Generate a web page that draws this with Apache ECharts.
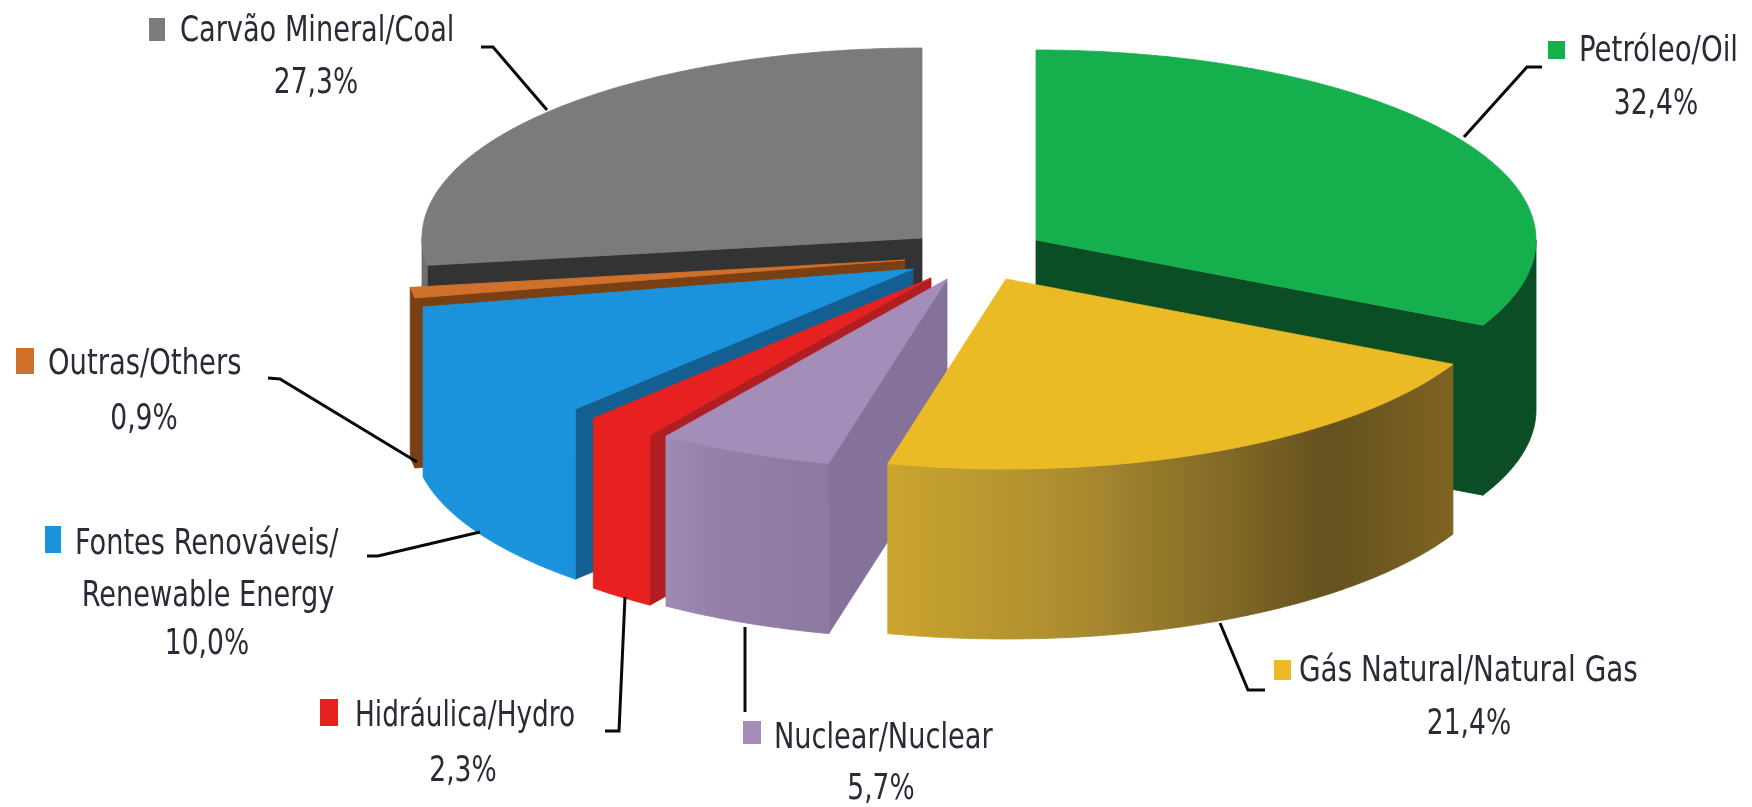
<!DOCTYPE html>
<html>
<head>
<meta charset="utf-8">
<style>html,body{margin:0;padding:0;background:#fff}#chart{width:1752px;height:807px}</style>
<script src="https://cdn.jsdelivr.net/npm/echarts@6/dist/echarts.min.js"></script>
</head>
<body>
<div id="chart"></div>
<script>
// Energy matrix shares, in percent, clockwise from twelve o'clock.
const sources = ['Petróleo/Oil', 'Gás Natural/Natural Gas', 'Nuclear/Nuclear', 'Hidráulica/Hydro',
  'Fontes Renováveis/\nRenewable Energy', 'Outras/Others', 'Carvão Mineral/Coal'];
const shares = [32.4, 21.4, 5.7, 2.3, 10.0, 0.9, 27.3];

// Where each exploded wedge has its apex on the top plane.
const apexX = [1036, 1006, 947, 931, 913, 905, 922];
const apexY = [240, 279, 279, 278, 269, 260, 238];
// Back-to-front painting order of the wedges.
const paintRank = [0, 6, 5, 4, 3, 2, 1];

const RX = 500, RY = 190, DEPTH = 170;

const topColors = ['#16AF4E', '#EBBB25', '#A58DB9', '#E6211F', '#1B92DC', '#CF702B', '#7B7B7B'];
const cutColors = ['#0B4D24', '#8A6D20', '#85729A', '#B01E22', '#135F92', '#7A3F12', '#333333'];
const wallColors = [
  '#0B4D24',
  { type: 'linear', x: 0, y: 0, x2: 1, y2: 0, colorStops: [
    { offset: 0, color: '#CBA52E' }, { offset: 0.35, color: '#A98A30' },
    { offset: 0.78, color: '#65511F' }, { offset: 1, color: '#7E6322' }] },
  { type: 'linear', x: 0, y: 0, x2: 1, y2: 0, colorStops: [
    { offset: 0, color: '#A08BB3' }, { offset: 0.3, color: '#967FA8' }, { offset: 1, color: '#8D78A0' }] },
  '#E6211F', '#1B92DC', '#7A3F12', '#707070'
];

// Annotation layout: swatch box, text lines, percentage and leader polyline per source.
const swatches = [[1548, 41, 17, 18], [1274, 660, 17, 20], [743, 721, 18, 23], [320, 699, 18, 27], [45, 526, 16, 27], [16, 348, 18, 26], [149, 18, 16, 23]];
const textLefts = [1579, 1299, 774, 355, 75, 48, 180];
const textRows = [52, 672, 739, 717, 545, 365, 32];
const textStretch = [1.28, 1.29, 1.26, 1.22, 1.26, 1.27, 1.26];
const pctCentres = [[1656, 105], [1469, 725], [881, 790], [463, 772], [207, 645], [144, 420], [316, 84]];
const secondRowY = 597;
const leaders = [
  [[1464, 137], [1527, 67], [1542, 67]],
  [[1220, 623], [1248, 690], [1265, 690]],
  [[745, 627], [745, 712]],
  [[625, 597], [619, 731], [605, 731]],
  [[480, 532], [378, 556], [367, 556]],
  [[417, 462], [280, 379], [268, 378]],
  [[547, 110], [493, 47], [481, 47]]
];

const total = shares.reduce((a, b) => a + b, 0);
const startAngle = shares.map((_, i) => shares.slice(0, i).reduce((a, b) => a + b, 0) / total * Math.PI * 2);
const edgePoint = (i, a) => [apexX[i] + RX * Math.sin(a), apexY[i] - RY * Math.cos(a)];

function arcPoints(i, from, to) {
  const n = Math.max(2, Math.ceil((to - from) / 0.01));
  const pts = [];
  for (let k = 0; k <= n; k++) pts.push(edgePoint(i, from + (to - from) * k / n));
  return pts;
}
const dropped = pts => pts.map(p => [p[0], p[1] + DEPTH]);

function renderWedge(params, api) {
  const i = params.dataIndex;
  const a0 = startAngle[i];
  const a1 = a0 + api.value(1) / total * Math.PI * 2;
  const z = paintRank[i] * 10;
  const apex = [apexX[i], apexY[i]];
  const children = [];
  // Each face gets a hairline of its own fill so neighbouring faces close without a seam.
  const face = (pts, fill, z2) => children.push({
    type: 'polygon', z2, shape: { points: pts }, style: { fill, stroke: fill, lineWidth: 0.8 }
  });
  // A radial cut shows only when its outward normal points towards the viewer.
  [[a0, -1], [a1, 1]].forEach(([a, dir]) => {
    if (dir * Math.sin(a) > 0) {
      const e = edgePoint(i, a);
      face([apex, e, [e[0], e[1] + DEPTH], [apex[0], apex[1] + DEPTH]], cutColors[i], z + 1);
    }
  });
  // Outer wall: only the front half of the rim, from 90 to 270 degrees.
  const from = Math.max(a0, Math.PI / 2), to = Math.min(a1, Math.PI * 1.5);
  if (to > from) {
    const rim = arcPoints(i, from, to);
    face(rim.concat(dropped(rim).reverse()), wallColors[i], z + 2);
  }
  face([apex].concat(arcPoints(i, a0, a1)), topColors[i], z + 3);
  return { type: 'group', children };
}

const fontFamily = '"DejaVu Sans Condensed", "DejaVu Sans", sans-serif';
function textEl(text, x, y, align, stretch) {
  return {
    type: 'text', x, y, scaleX: stretch, scaleY: 1.45, z2: 100,
    style: { text, fontFamily, fontSize: 24, fill: '#2B2B38', textAlign: align, textVerticalAlign: 'middle' }
  };
}

function renderNote(params, api) {
  const i = params.dataIndex;
  const s = swatches[i];
  const children = [
    { type: 'polyline', z2: 90, shape: { points: leaders[i] },
      style: { stroke: '#0A0A0A', lineWidth: 3, fill: null } },
    { type: 'rect', z2: 90, shape: { x: s[0], y: s[1], width: s[2], height: s[3] },
      style: { fill: topColors[i] } }
  ];
  const lines = sources[i].split('\n');
  children.push(textEl(lines[0], textLefts[i], textRows[i], 'left', textStretch[i]));
  if (lines[1]) children.push(textEl(lines[1], pctCentres[i][0] + 1, secondRowY, 'center', textStretch[i]));
  const pct = api.value(1).toFixed(1).replace('.', ',') + '%';
  children.push(textEl(pct, pctCentres[i][0], pctCentres[i][1], 'center', 1.23));
  return { type: 'group', children };
}

const seriesData = shares.map((v, i) => [i, v]);
const chart = echarts.init(document.getElementById('chart'));
chart.setOption({
  animation: false,
  backgroundColor: '#fff',
  series: [
    { type: 'custom', coordinateSystem: 'none', silent: true, renderItem: renderWedge, data: seriesData },
    { type: 'custom', coordinateSystem: 'none', silent: true, renderItem: renderNote, data: seriesData }
  ]
});
</script>
</body>
</html>
